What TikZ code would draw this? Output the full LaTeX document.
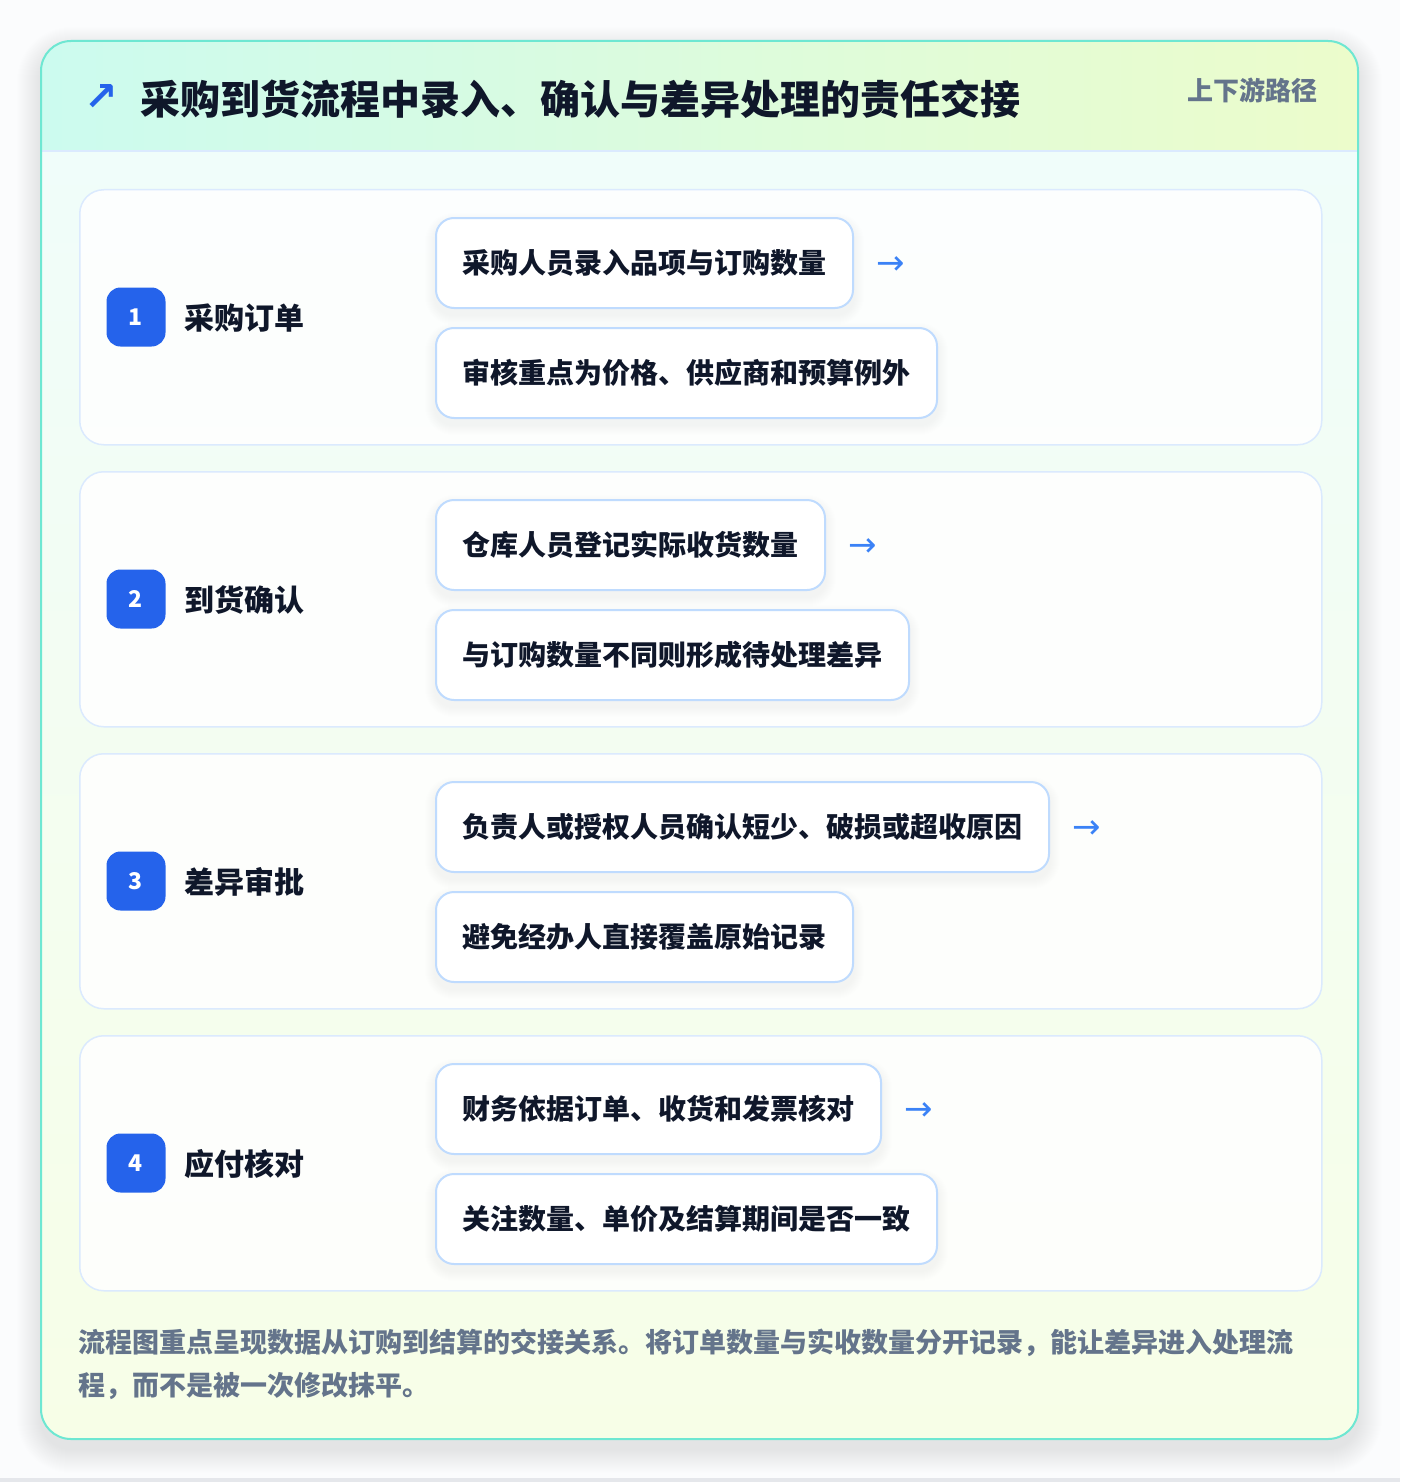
\documentclass[tikz,border=0pt]{standalone}
\usepackage{fontspec}
\setmainfont{Noto Sans CJK SC}
\newfontfamily\symfont{DejaVu Sans}
\usetikzlibrary{calc}
\definecolor{pagebg}{HTML}{FBFCFD}
\definecolor{strip}{HTML}{E5E7EB}
\definecolor{cardborder}{HTML}{6EE7D2}
\definecolor{hdrL}{HTML}{CCFBEF}
\definecolor{hdrR}{HTML}{ECFCCB}
\definecolor{bodyT}{HTML}{F0FDFA}
\definecolor{bodyB}{HTML}{F7FEE7}
\definecolor{hdrline}{HTML}{DBEAFE}
\definecolor{stageline}{HTML}{DBEAFE}
\definecolor{itemline}{HTML}{BFDBFE}
\definecolor{ink}{HTML}{0F172A}
\definecolor{slate}{HTML}{64748B}
\definecolor{badgeblue}{HTML}{2563EB}
\definecolor{arrowblue}{HTML}{3B82F6}
\definecolor{shadowc}{HTML}{0F172A}
\newcommand{\fsz}[1]{\fontsize{#1}{#1}\selectfont}
\begin{document}
\begin{tikzpicture}[x=1pt,y=-1pt,
  stagecard/.style={draw=stageline, line width=1.5, fill=white, fill opacity=0.85, draw opacity=1, rounded corners=24, minimum width=1242, minimum height=255, anchor=north west, inner sep=0},
  itembox/.style={draw=itemline, line width=2, fill=white, rounded corners=18, minimum height=90, inner xsep=26.5, inner ysep=0, anchor=north west, font=\bfseries\fsz{28}, text=ink},
  badge/.style={fill=badgeblue, rounded corners=14, minimum size=59, inner sep=0, text=white, font=\bfseries\fsz{23}},
  stagelabel/.style={anchor=west, font=\bfseries\fsz{30}, text=ink, inner sep=0},
  flowarrow/.style={anchor=west, font=\symfont\fsz{34}, text=arrowblue, inner sep=0},
  foottext/.style={anchor=west, font=\bfseries\fsz{27}, text=slate, inner sep=0}
]
\useasboundingbox (0,0) rectangle (1400,1482);
\fill[pagebg] (0,0) rectangle (1400,1482);
\fill[strip] (0,1478) rectangle (1400,1482);
% soft card shadow
\foreach \k in {1,...,24}{
  \fill[shadowc, opacity=0.0045, rounded corners=30+\k] (41-\k,41-\k+10) rectangle (1358+\k,1439+\k+10);
}
\fill[white, rounded corners=30] (41,41) rectangle (1358,1439);
\begin{scope}
  \clip[rounded corners=30] (41,41) rectangle (1358,1439);
  \shade[top color=bodyT, bottom color=bodyB] (41,151) rectangle (1358,1439);
  \shade[left color=hdrL, right color=hdrR] (41,41) rectangle (1358,151);
\end{scope}
\draw[hdrline, line width=1.5] (41,151) -- (1358,151);
\draw[cardborder, line width=2, rounded corners=30] (41,41) rectangle (1358,1439);
% header
\node[text=badgeblue, font=\symfont\bfseries\fsz{40}, inner sep=0] (icon) at (101,98) {↗};
\node[anchor=west, font=\bfseries\fsz{40}, text=ink, inner sep=0] (title) at (140,99) {采购到货流程中录入、确认与差异处理的责任交接};
\node[anchor=east, font=\bfseries\fsz{26}, text=slate, inner sep=0] (tag) at (1318,90) {上下游路径};
% stages
\foreach \i/\num/\lab/\ta/\tb in {
  0/1/采购订单/采购人员录入品项与订购数量/审核重点为价格、供应商和预算例外,
  1/2/到货确认/仓库人员登记实际收货数量/与订购数量不同则形成待处理差异,
  2/3/差异审批/负责人或授权人员确认短少、破损或超收原因/避免经办人直接覆盖原始记录,
  3/4/应付核对/财务依据订单、收货和发票核对/关注数量、单价及结算期间是否一致}{
  \pgfmathsetmacro{\dy}{282*\i}
  \node[stagecard] (s\num) at (79,189+\dy) {};
  \node[badge] (b\num) at (136,317+\dy) {\num};
  \node[stagelabel] (l\num) at (184,318+\dy) {\lab};
  \node[itembox, opacity=0] (ta\num) at (435,217+\dy) {\ta};
  \node[itembox, opacity=0] (tb\num) at (435,327+\dy) {\tb};
  \foreach \k in {1,...,10}{
    \fill[shadowc, opacity=0.004, rounded corners=18+\k] ($(ta\num.north west)+(-\k,-\k+6)$) rectangle ($(ta\num.south east)+(\k,\k+6)$);
    \fill[shadowc, opacity=0.004, rounded corners=18+\k] ($(tb\num.north west)+(-\k,-\k+6)$) rectangle ($(tb\num.south east)+(\k,\k+6)$);
  }
  \node[itembox] (ia\num) at (435,217+\dy) {\ta};
  \node[itembox] (ib\num) at (435,327+\dy) {\tb};
  \node[flowarrow] (ar\num) at ($(ia\num.east)+(22,3)$) {→};
}
% footer
\node[foottext] (foot1) at (78,1343) {流程图重点呈现数据从订购到结算的交接关系。将订单数量与实收数量分开记录，能让差异进入处理流};
\node[foottext] (foot2) at (78,1386) {程，而不是被一次修改抹平。};
\end{tikzpicture}
\end{document}
